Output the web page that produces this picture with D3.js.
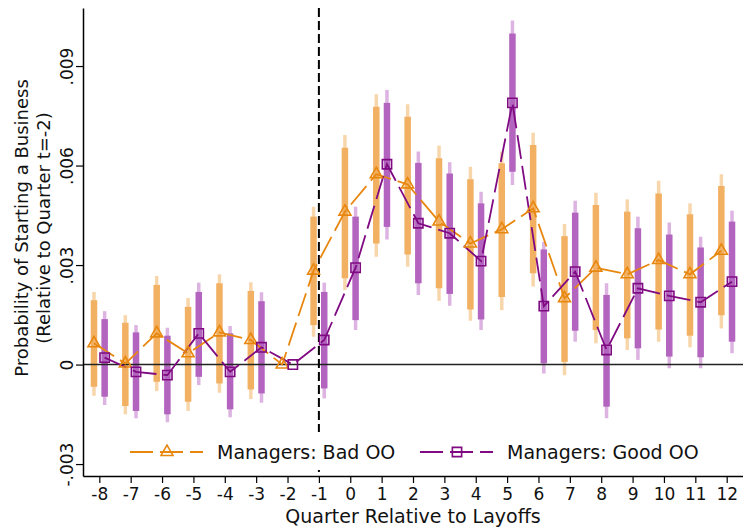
<!DOCTYPE html>
<html>
<head>
<meta charset="utf-8">
<script src="https://cdn.jsdelivr.net/npm/d3@7"></script>
<style>
  body { margin: 0; background: #fff; }
  text { font-family: "DejaVu Sans", sans-serif; fill: #111; }
</style>
</head>
<body>
<div id="chart"></div>
<script>
// values in thousandths (0.001)
const quarters = [-8,-7,-6,-5,-4,-3,-2,-1,0,1,2,3,4,5,6,7,8,9,10,11,12];

const badPoint = [0.64,0.03,0.94,0.34,0.97,0.74,0,2.83,4.61,5.74,5.43,4.31,3.65,4.08,4.71,2.00,2.92,2.72,3.15,2.72,3.43];
const badInnerLo = [-0.67,-1.25,-0.52,-1.12,-0.57,-0.75,null,1.19,2.60,3.65,3.32,2.30,1.66,2.04,2.75,0.08,1.04,0.79,1.06,0.87,1.49];
const badInnerHi = [1.94,1.26,2.40,1.74,2.45,2.22,null,4.46,6.54,7.77,7.47,6.22,5.59,6.07,6.62,3.87,4.81,4.61,5.16,4.53,5.38];
const badOuterLo = [-0.94,-1.50,-0.80,-1.40,-0.85,-1.04,null,0.84,2.25,3.25,2.95,1.92,1.32,1.64,2.35,-0.32,0.64,0.44,0.69,0.52,1.09];
const badOuterHi = [2.19,1.49,2.67,2.01,2.72,2.48,null,4.76,6.92,8.15,7.85,6.60,5.96,6.42,6.99,4.24,5.18,4.98,5.54,4.86,5.74];

const goodPoint = [0.21,-0.22,-0.32,0.94,-0.22,0.52,0,0.74,2.92,6.04,4.26,3.96,3.12,7.89,1.76,2.80,0.44,2.30,2.07,1.88,2.50];
const goodInnerLo = [-0.97,-1.40,-1.50,-0.37,-1.35,-0.87,null,-0.72,1.34,4.15,2.45,2.13,1.36,5.81,0.04,1.02,-1.27,0.49,0.24,0.22,0.69];
const goodInnerHi = [1.37,0.97,0.87,2.19,0.94,1.91,null,2.19,4.46,7.89,6.08,5.76,4.86,9.98,3.47,4.58,2.10,4.11,3.92,3.53,4.31];
const goodOuterLo = [-1.22,-1.62,-1.74,-0.62,-1.59,-1.15,null,-1.02,1.04,3.77,2.10,1.77,1.04,5.41,-0.27,0.69,-1.62,0.14,-0.11,-0.11,0.34];
const goodOuterHi = [1.61,1.19,1.11,2.47,1.16,2.18,null,2.47,4.76,8.28,6.42,6.10,5.21,10.37,3.70,4.94,2.45,4.46,4.28,3.85,4.64];

const yTicks = [-3, 0, 3, 6, 9];
const yTickLabels = ["-.003", "0", ".003", ".006", ".009"];
const seriesNames = ["Managers: Bad OO", "Managers: Good OO"];

const W = 743, H = 528;
const margin = {top: 8, right: 0, bottom: 52, left: 83};
const width = W - margin.left - margin.right,
      height = H - margin.top - margin.bottom;

const svg = d3.select("#chart").append("svg")
  .attr("width", W).attr("height", H);
const g = svg.append("g")
  .attr("transform", "translate(" + margin.left + "," + margin.top + ")");

const x = d3.scaleLinear().domain([-8.52, 12.52]).range([0, width]);
const y = d3.scaleLinear().domain([-3.36, 10.75]).range([height, 0]);

const orangeLine = "#e8870f", purpleLine = "#7f0a82";
const orangeIn = "#f2b062", orangeOut = "#f8d6ab";
const purpleIn = "#b264bf", purpleOut = "#dcb3e1";
const off = 0.17;

function rows(pt, il, ih, ol, oh, dx) {
  return quarters.map((q, i) => ({q: q, xv: q + dx, p: pt[i], il: il[i], ih: ih[i], ol: ol[i], oh: oh[i]}));
}
const bad = rows(badPoint, badInnerLo, badInnerHi, badOuterLo, badOuterHi, -off);
const good = rows(goodPoint, goodInnerLo, goodInnerHi, goodOuterLo, goodOuterHi, off);

// confidence bars
function drawBars(data, cIn, cOut) {
  const d = data.filter(r => r.il !== null);
  g.selectAll(null).data(d).enter().append("line")
    .attr("x1", r => x(r.xv)).attr("x2", r => x(r.xv))
    .attr("y1", r => y(r.ol)).attr("y2", r => y(r.oh))
    .attr("stroke", cOut).attr("stroke-width", 3.5);
  g.selectAll(null).data(d).enter().append("line")
    .attr("x1", r => x(r.xv)).attr("x2", r => x(r.xv))
    .attr("y1", r => y(r.il)).attr("y2", r => y(r.ih))
    .attr("stroke", cIn).attr("stroke-width", 6.5);
}
drawBars(bad, orangeIn, orangeOut);
drawBars(good, purpleIn, purpleOut);

// zero line
g.append("line")
  .attr("x1", 0).attr("x2", width)
  .attr("y1", y(0)).attr("y2", y(0))
  .attr("stroke", "#222").attr("stroke-width", 1.5);

// event line at -1
g.append("line")
  .attr("x1", x(-1)).attr("x2", x(-1))
  .attr("y1", 0).attr("y2", height)
  .attr("stroke", "#000").attr("stroke-width", 2)
  .attr("stroke-dasharray", "9,4");

// series lines
const line = d3.line().x(r => x(r.xv)).y(r => y(r.p));
g.append("path").datum(bad)
  .attr("fill", "none").attr("stroke", orangeLine).attr("stroke-width", 1.8)
  .attr("stroke-dasharray", "24,7").attr("d", line);
g.append("path").datum(good)
  .attr("fill", "none").attr("stroke", purpleLine).attr("stroke-width", 1.8)
  .attr("stroke-dasharray", "24,7").attr("d", line);

const tri = d3.symbol().type(d3.symbolTriangle).size(62);
const sq = d3.symbol().type(d3.symbolSquare).size(86);
g.selectAll(null).data(bad).enter().append("path")
  .attr("d", tri).attr("transform", r => "translate(" + x(r.xv) + "," + y(r.p) + ")")
  .attr("fill", "none").attr("stroke", orangeLine).attr("stroke-width", 1.6);
g.selectAll(null).data(good).enter().append("path")
  .attr("d", sq).attr("transform", r => "translate(" + x(r.xv) + "," + y(r.p) + ")")
  .attr("fill", "none").attr("stroke", purpleLine).attr("stroke-width", 1.6);

// axes
const xAxis = g.append("g")
  .attr("transform", "translate(0," + height + ")")
  .call(d3.axisBottom(x).tickValues(quarters).tickFormat(d => String(d))
    .tickSize(7).tickSizeOuter(0).tickPadding(5));
xAxis.select(".domain").attr("stroke", "#000").attr("stroke-width", 1.5);
xAxis.selectAll(".tick line").attr("stroke", "#000").attr("stroke-width", 1.2);
xAxis.selectAll(".tick text").style("font-size", "17px").style("font-family", "DejaVu Sans").attr("fill", "#111");

const yAxis = g.append("g")
  .call(d3.axisLeft(y).tickValues(yTicks).tickFormat((d, i) => yTickLabels[i]).tickSize(7).tickSizeOuter(0));
yAxis.select(".domain").attr("stroke", "#000").attr("stroke-width", 1.5);
yAxis.selectAll(".tick line").attr("stroke", "#000").attr("stroke-width", 1.2);
yAxis.selectAll(".tick text")
  .attr("x", 0).attr("y", 0).attr("dy", 0)
  .attr("text-anchor", "middle")
  .attr("transform", "translate(-10,0) rotate(-90)")
  .style("font-size", "17px").style("font-family", "DejaVu Sans").attr("fill", "#111");

// axis titles
svg.append("text")
  .attr("x", margin.left + width / 2).attr("y", 523)
  .attr("text-anchor", "middle").style("font-size", "19px")
  .text("Quarter Relative to Layoffs");
const yt = svg.append("g").attr("transform", "translate(28,228) rotate(-90)");
yt.append("text").attr("text-anchor", "middle").style("font-size", "18px")
  .text("Probability of Starting a Business");
yt.append("text").attr("y", 22).attr("text-anchor", "middle").style("font-size", "18px")
  .text("(Relative to Quarter t=-2)");

// legend (white box over the plot)
svg.append("rect")
  .attr("x", 116).attr("y", 432).attr("width", 596).attr("height", 38)
  .attr("fill", "#fff");
const legend = [
  {name: seriesNames[0], x0: 130, color: orangeLine, sym: tri},
  {name: seriesNames[1], x0: 420, color: purpleLine, sym: sq}
];
legend.forEach(l => {
  const lg = svg.append("g").attr("transform", "translate(" + l.x0 + ",452)");
  lg.append("line").attr("x1", 0).attr("x2", 73).attr("y1", 0).attr("y2", 0)
    .attr("stroke", l.color).attr("stroke-width", 1.8).attr("stroke-dasharray", "23,7");
  lg.append("path").attr("d", l.sym).attr("transform", "translate(37,0)")
    .attr("fill", "none").attr("stroke", l.color).attr("stroke-width", 1.6);
  lg.append("text").attr("x", 87).attr("y", 7).style("font-size", "19px").text(l.name);
});
</script>
</body>
</html>
